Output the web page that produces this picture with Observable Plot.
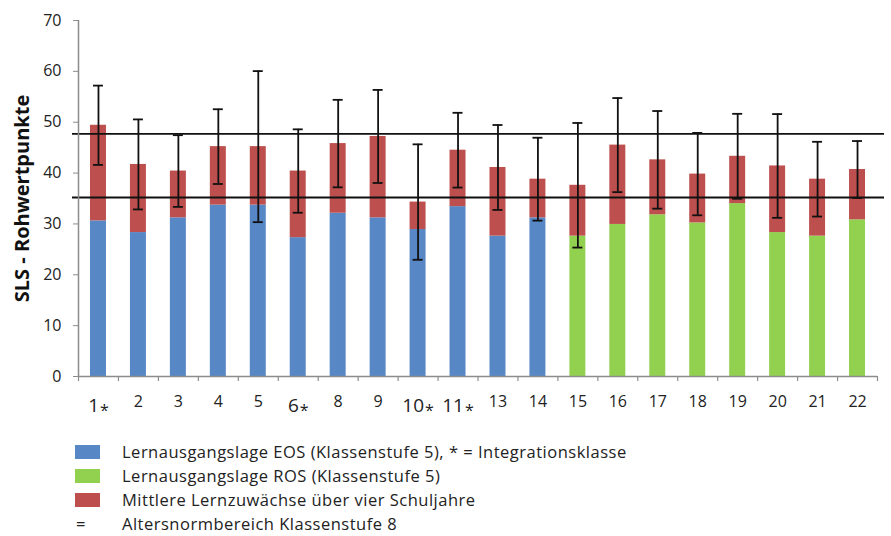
<!DOCTYPE html>
<html>
<head>
<meta charset="utf-8">
<script src="https://cdn.jsdelivr.net/npm/d3@7"></script>
<script src="https://cdn.jsdelivr.net/npm/@observablehq/plot@0.6"></script>
<style>
  html, body { margin: 0; padding: 0; background: #fff; }
  body { width: 891px; height: 536px; position: relative; font-family: "Open Sans", sans-serif; color: #222; }
  #legend { position: absolute; left: 0; top: 440px; width: 891px; }
  .row { position: relative; height: 24px; line-height: 24px; font-size: 16.5px; letter-spacing: 0.5px; }
  .sw { position: absolute; left: 75px; top: 5px; width: 25px; height: 14px; }
  .eq { position: absolute; left: 75px; top: 0; width: 12px; text-align: center; }
  .lbl { position: absolute; left: 122px; top: 0; white-space: nowrap; }
</style>
</head>
<body>
<div id="chart"></div>
<div id="legend"></div>
<script>
// ---- data ----
const klassen = ["1*","2","3","4","5","6*","8","9","10*","11*","13","14","15","16","17","18","19","20","21","22"];
const schulform = ["EOS","EOS","EOS","EOS","EOS","EOS","EOS","EOS","EOS","EOS","EOS","EOS","ROS","ROS","ROS","ROS","ROS","ROS","ROS","ROS"];
const lernausgangslage = [30.6, 28.3, 31.2, 33.7, 33.7, 27.3, 32.1, 31.2, 28.9, 33.4, 27.6, 31.2, 27.6, 29.9, 31.8, 30.2, 34.0, 28.3, 27.6, 30.8];
const lernzuwachs = [18.8, 13.4, 9.2, 11.5, 11.5, 13.1, 13.7, 16.0, 5.4, 11.1, 13.5, 7.6, 10.0, 15.6, 10.8, 9.6, 9.3, 13.1, 11.2, 9.9];
const streuung = [7.8, 8.85, 7.05, 7.35, 14.85, 8.2, 8.6, 9.15, 11.35, 7.35, 8.35, 8.15, 12.25, 9.25, 9.6, 8.1, 8.35, 10.2, 7.35, 5.6];
const altersnorm = [35.2, 47.7];
const yTicks = [0, 10, 20, 30, 40, 50, 60, 70];
const legendLabels = [
  "Lernausgangslage EOS (Klassenstufe 5), * = Integrationsklasse",
  "Lernausgangslage ROS (Klassenstufe 5)",
  "Mittlere Lernzuwächse über vier Schuljahre",
  "Altersnormbereich Klassenstufe 8"
];

// ---- styles ----
const BLUE = "#5787C5", GREEN = "#92D050", RED = "#BD504E", AXIS = "#8c8c8c", INK = "#111";

const rows = klassen.map((k, i) => ({
  klasse: k,
  schulform: schulform[i],
  basis: lernausgangslage[i],
  gesamt: lernausgangslage[i] + lernzuwachs[i],
  sd: streuung[i]
}));

const W = 891, H = 424, ML = 78, MR = 14, MT = 20, MB = 48;
const step = (W - ML - MR) / klassen.length;

const chart = Plot.plot({
  width: W, height: H,
  marginTop: MT, marginBottom: MB, marginLeft: ML, marginRight: MR,
  style: { fontFamily: "Open Sans, sans-serif", fontSize: "16px", color: "#222", background: "white" },
  x: { domain: klassen, paddingInner: 0.6, paddingOuter: 0.3, round: false, axis: null },
  y: { domain: [0, 70], axis: null },
  color: { type: "identity" },
  marks: [
    Plot.barY(rows, { x: "klasse", y1: 0, y2: "basis", fill: d => d.schulform === "EOS" ? BLUE : GREEN }),
    Plot.barY(rows, { x: "klasse", y1: "basis", y2: "gesamt", fill: RED }),
    Plot.ruleY(altersnorm, { stroke: INK, strokeWidth: 1.8, insetLeft: -6, insetRight: -7 }),
    Plot.ruleX(rows, { x: "klasse", y1: d => d.gesamt - d.sd, y2: d => d.gesamt + d.sd, stroke: INK, strokeWidth: 1.8 }),
    Plot.tickY(rows, { x: "klasse", y: d => d.gesamt - d.sd, stroke: INK, strokeWidth: 1.8, insetLeft: 3, insetRight: 3 }),
    Plot.tickY(rows, { x: "klasse", y: d => d.gesamt + d.sd, stroke: INK, strokeWidth: 1.8, insetLeft: 3, insetRight: 3 }),
    // axis lines
    Plot.ruleY([0], { stroke: AXIS, strokeWidth: 1.5 }),
    Plot.ruleX([klassen[0]], { dx: -step / 2, y1: 0, y2: 70, stroke: AXIS, strokeWidth: 1.5 }),
    // x ticks at category boundaries
    Plot.ruleX(klassen, { x: d => d, dx: -step / 2, y1: 0, y2: -1, stroke: AXIS, strokeWidth: 1.2 }),
    Plot.ruleX([klassen[klassen.length - 1]], { dx: step / 2, y1: 0, y2: -1, stroke: AXIS, strokeWidth: 1.2 }),
    Plot.axisY({ ticks: yTicks, tickSize: 5, tickPadding: 12, stroke: AXIS, fill: "#222", label: null, fontSize: 16 }),
    Plot.axisX({ tickSize: 0, tickPadding: 19, label: null, fontSize: 16, fill: "#222", tickFormat: d => d }),
    Plot.text(["SLS - Rohwertpunkte"], { frameAnchor: "left", textAnchor: "middle", rotate: -90, dx: -56, fontWeight: "bold", fontSize: 20, fill: "#111" })
  ]
});

// starred class labels: larger number, asterisk centred low, slightly lower baseline
chart.querySelectorAll("text").forEach(t => {
  const s = t.textContent;
  if (/^\d+\*$/.test(s)) {
    t.textContent = s.slice(0, -1);
    t.setAttribute("font-size", "19");
    t.style.fontSize = "19px";
    t.setAttribute("transform", (t.getAttribute("transform") || "") + " translate(0,3)");
    const ts = document.createElementNS("http://www.w3.org/2000/svg", "tspan");
    ts.textContent = "*";
    ts.setAttribute("font-size", "16");
    ts.style.fontSize = "16px";
    ts.setAttribute("dy", "4");
    ts.setAttribute("dx", "1");
    t.appendChild(ts);
  }
});

document.getElementById("chart").appendChild(chart);

// legend
const legend = document.getElementById("legend");
const swatches = [BLUE, GREEN, RED, null];
legendLabels.forEach((label, i) => {
  const row = document.createElement("div");
  row.className = "row";
  if (swatches[i]) {
    const sw = document.createElement("div");
    sw.className = "sw";
    sw.style.background = swatches[i];
    row.appendChild(sw);
  } else {
    const eq = document.createElement("div");
    eq.className = "eq";
    eq.textContent = "=";
    row.appendChild(eq);
  }
  const l = document.createElement("div");
  l.className = "lbl";
  l.textContent = label;
  row.appendChild(l);
  legend.appendChild(row);
});
</script>
</body>
</html>
